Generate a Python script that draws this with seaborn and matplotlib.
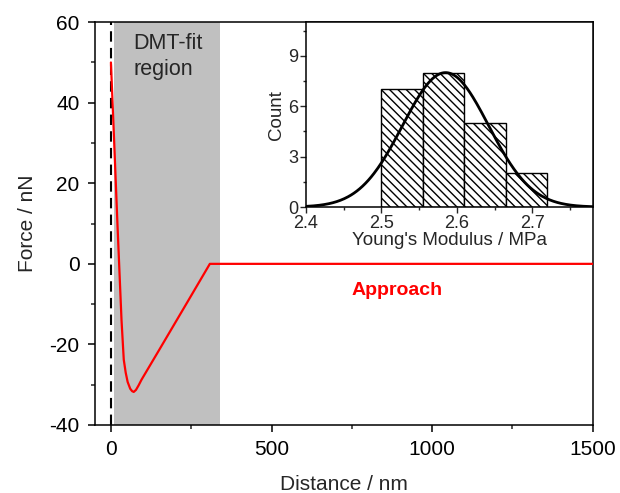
import numpy as np
import pandas as pd
import seaborn as sns
from matplotlib import pyplot as plt
from matplotlib.ticker import AutoMinorLocator, MultipleLocator

# force-distance approach curve
distance = [0, 10, 20, 33, 40, 46, 52, 60, 66, 71, 78, 86, 95, 150, 238, 308, 1500]
force = [50, 30.5, 10.5, -14, -23.8, -27, -29.3, -31, -31.6, -31.8, -31.3, -30.2, -28.8, -21.4, -9.5, 0, 0]

# DMT fit window
dmt_start, dmt_end = 10, 340

# inset histogram of Young's modulus
bin_edges = [2.5, 2.555, 2.61, 2.665, 2.72]
bin_counts = [7, 8, 5, 2]

# gaussian fit parameters of the histogram
fit_amp, fit_center, fit_sigma = 8.0, 2.585, 0.057

sns.set_theme(style="ticks")
plt.rcParams['font.family'] = ['Liberation Sans', 'DejaVu Sans']
plt.rcParams['axes.linewidth'] = 1.1
plt.rcParams['axes.unicode_minus'] = False

fig = plt.figure(figsize=(6.2, 4.93), dpi=100)
ax = fig.add_axes([0.153, 0.138, 0.803, 0.817])

ax.axvspan(dmt_start, dmt_end, color="#c0c0c0", lw=0, zorder=0)
ax.axvline(0, color="black", ls=(0, (5, 3)), lw=1.5, zorder=1)

curve = pd.DataFrame({"Distance": distance, "Force": force})
sns.lineplot(data=curve, x="Distance", y="Force", ax=ax, color="red", lw=1.6,
             sort=False, zorder=3)

ax.set_xlim(-50, 1500)
ax.set_ylim(-40, 60)
ax.xaxis.set_major_locator(MultipleLocator(500))
ax.yaxis.set_major_locator(MultipleLocator(20))
ax.xaxis.set_minor_locator(AutoMinorLocator(2))
ax.yaxis.set_minor_locator(AutoMinorLocator(2))
ax.tick_params(which="major", direction="out", length=5, width=1.1, labelsize=15, colors="black", pad=6)
ax.tick_params(which="minor", direction="out", length=3, width=1.1)
ax.set_xlabel("Distance / nm", fontsize=15, labelpad=11)
ax.set_ylabel("Force / nN", fontsize=15, labelpad=9)
for s in ax.spines.values():
    s.set_color("black")

ax.text(71, 51.4, "DMT-fit\nregion", fontsize=15.5, va="center", ha="left", linespacing=1.3)
ax.text(891, -6.5, "Approach", fontsize=14, color="red", fontweight="bold", ha="center", va="center")

# inset
ins = fig.add_axes([0.4935, 0.580, 0.4625, 0.375])
centers = [(a + b) / 2 for a, b in zip(bin_edges[:-1], bin_edges[1:])]
sns.histplot(x=centers, weights=bin_counts, bins=bin_edges, ax=ins,
             color="white", edgecolor="black", linewidth=1.0, alpha=1,
             hatch="\\\\\\\\")
gx = np.linspace(2.4, 2.78, 300)
gy = fit_amp * np.exp(-(gx - fit_center) ** 2 / (2 * fit_sigma ** 2))
sns.lineplot(x=gx, y=gy, ax=ins, color="black", lw=2)

ins.set_xlim(2.4, 2.78)
ins.set_ylim(0, 11)
ins.xaxis.set_major_locator(MultipleLocator(0.1))
ins.yaxis.set_major_locator(MultipleLocator(3))
ins.xaxis.set_minor_locator(AutoMinorLocator(2))
ins.yaxis.set_minor_locator(AutoMinorLocator(2))
ins.tick_params(which="major", direction="out", length=4, width=1.0, labelsize=13, pad=1.5)
ins.tick_params(which="minor", direction="out", length=2.5, width=1.0)
ins.set_xlabel("Young's Modulus / MPa", fontsize=13.5, labelpad=0)
ins.set_ylabel("Count", fontsize=13.5, labelpad=2)
for s in ins.spines.values():
    s.set_color("black")

fig.savefig("out.png", dpi=100)
